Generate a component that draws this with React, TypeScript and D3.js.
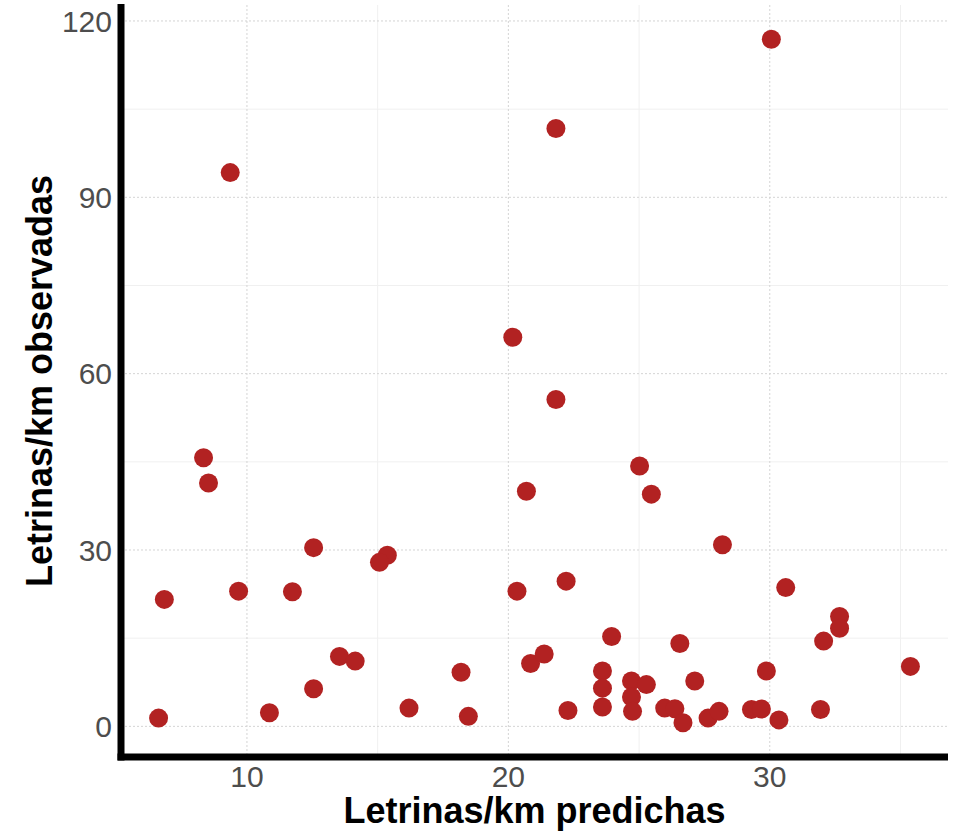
import React, { useEffect, useRef } from 'react';
import * as d3 from 'd3';

// Letrinas/km predichas (x) vs observadas (y)
const predichas = [
  30.06, 21.82, 9.36, 20.17, 21.82, 8.34, 8.53, 25.02, 20.69, 25.47,
  12.55, 15.37, 15.07, 28.19, 6.84, 9.68, 11.74, 20.33, 22.21, 30.61,
  13.54, 14.14, 12.55, 10.86, 6.62, 16.2, 18.19, 18.47, 20.85, 21.37,
  22.28, 23.95, 26.56, 23.6, 23.6, 23.6, 24.71, 25.28, 24.71, 24.75,
  27.13, 25.98, 26.37, 26.68, 27.64, 28.06, 29.3, 29.68, 29.87, 30.35,
  31.94, 32.06, 32.67, 32.67, 35.38,
];
const observadas = [
  116.9, 101.7, 94.2, 66.2, 55.6, 45.7, 41.4, 44.3, 40.0, 39.5,
  30.4, 29.1, 27.9, 30.9, 21.6, 23.0, 22.9, 23.0, 24.7, 23.6,
  11.9, 11.1, 6.4, 2.3, 1.4, 3.1, 9.2, 1.7, 10.7, 12.3,
  2.7, 15.3, 14.1, 9.4, 6.5, 3.3, 7.7, 7.1, 5.0, 2.55,
  7.7, 3.1, 3.0, 0.6, 1.4, 2.55, 2.85, 2.95, 9.4, 1.1,
  2.85, 14.5, 18.7, 16.7, 10.2,
];
const xTicks = [10, 20, 30];
const yTicks = [0, 30, 60, 90, 120];
const xMinor = [5, 15, 25, 35];
const yMinor = [15, 45, 75, 105];

const W = 954;
const H = 836;
const FONT = '"Liberation Sans", Arial, sans-serif';

const expand = (ext: [number, number]) => {
  const pad = (ext[1] - ext[0]) * 0.05;
  return [ext[0] - pad, ext[1] + pad];
};

const App: React.FC = () => {
  const svgRef = useRef<SVGSVGElement>(null);

  useEffect(() => {
    if (!svgRef.current) return;
    const svg = d3.select(svgRef.current);
    svg.selectAll('*').remove();

    const left = 121, right = 948, top = 5, bottom = 757;

    const x = d3.scaleLinear()
      .domain(expand(d3.extent(predichas) as [number, number]))
      .range([left, right]);
    const y = d3.scaleLinear()
      .domain(expand(d3.extent(observadas) as [number, number]))
      .range([bottom, top]);

    // minor grid
    const g = svg.append('g');
    g.selectAll('line.xminor')
      .data(xMinor.filter(v => x(v) > left && x(v) < right))
      .join('line')
      .attr('x1', d => x(d)).attr('x2', d => x(d))
      .attr('y1', top).attr('y2', bottom)
      .attr('stroke', '#f0f0f0').attr('stroke-width', 1);
    g.selectAll('line.yminor')
      .data(yMinor)
      .join('line')
      .attr('x1', left).attr('x2', right)
      .attr('y1', d => y(d)).attr('y2', d => y(d))
      .attr('stroke', '#f0f0f0').attr('stroke-width', 1);

    // major grid (dotted)
    g.selectAll('line.xmajor')
      .data(xTicks)
      .join('line')
      .attr('x1', d => x(d)).attr('x2', d => x(d))
      .attr('y1', top).attr('y2', bottom)
      .attr('stroke', '#d4d4d4').attr('stroke-width', 1)
      .attr('stroke-dasharray', '2,2');
    g.selectAll('line.ymajor')
      .data(yTicks)
      .join('line')
      .attr('x1', left).attr('x2', right)
      .attr('y1', d => y(d)).attr('y2', d => y(d))
      .attr('stroke', '#d4d4d4').attr('stroke-width', 1)
      .attr('stroke-dasharray', '2,2');

    // points
    svg.append('g')
      .selectAll('circle')
      .data(predichas.map((v, i) => [v, observadas[i]]))
      .join('circle')
      .attr('cx', d => x(d[0]))
      .attr('cy', d => y(d[1]))
      .attr('r', 9.5)
      .attr('fill', '#B22222');

    // axis lines
    svg.append('line')
      .attr('x1', left).attr('x2', left)
      .attr('y1', top - 1).attr('y2', bottom + 3.5)
      .attr('stroke', '#000').attr('stroke-width', 7);
    svg.append('line')
      .attr('x1', left - 3.5).attr('x2', right)
      .attr('y1', bottom).attr('y2', bottom)
      .attr('stroke', '#000').attr('stroke-width', 7);

    // tick labels
    svg.append('g')
      .selectAll('text')
      .data(yTicks)
      .join('text')
      .attr('x', 112)
      .attr('y', d => y(d))
      .attr('dy', '0.36em')
      .attr('text-anchor', 'end')
      .attr('fill', '#4d4d4d')
      .style('font-family', FONT)
      .style('font-size', '30px')
      .text(d => d);
    svg.append('g')
      .selectAll('text')
      .data(xTicks)
      .join('text')
      .attr('x', d => x(d))
      .attr('y', 787)
      .attr('text-anchor', 'middle')
      .attr('fill', '#4d4d4d')
      .style('font-family', FONT)
      .style('font-size', '30px')
      .text(d => d);

    // axis titles
    svg.append('text')
      .attr('x', (left + right) / 2)
      .attr('y', 823)
      .attr('text-anchor', 'middle')
      .attr('fill', '#000')
      .style('font-family', FONT)
      .style('font-weight', 'bold')
      .style('font-size', '36px')
      .text('Letrinas/km predichas');
    svg.append('text')
      .attr('transform', `translate(52, ${(top + bottom) / 2}) rotate(-90)`)
      .attr('text-anchor', 'middle')
      .attr('fill', '#000')
      .style('font-family', FONT)
      .style('font-weight', 'bold')
      .style('font-size', '36px')
      .text('Letrinas/km observadas');
  }, []);

  return (
    <div style={{ position: 'absolute', left: 0, top: 0 }}>
      <svg ref={svgRef} width={W} height={H} style={{ display: 'block', background: '#fff' }}></svg>
    </div>
  );
};

export default App;
